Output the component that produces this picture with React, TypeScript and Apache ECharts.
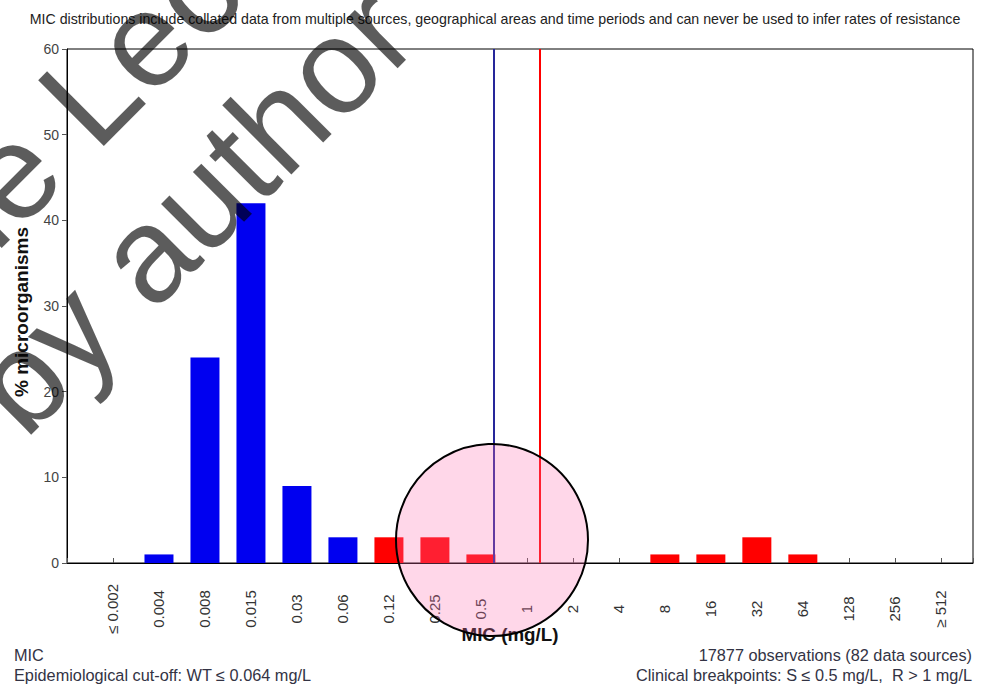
import React, { useEffect, useRef } from "react";
import * as echarts from "echarts";

// MIC classes (mg/L) and the share of isolates in each class
const micLabels = ["≤ 0.002", "0.004", "0.008", "0.015", "0.03", "0.06", "0.12", "0.25", "0.5", "1", "2", "4", "8", "16", "32", "64", "128", "256", "≥ 512"];
const micValues = [0.002, 0.004, 0.008, 0.015, 0.03, 0.06, 0.12, 0.25, 0.5, 1, 2, 4, 8, 16, 32, 64, 128, 256, 512];
const percentOrganisms = [0, 1, 24, 42, 9, 3, 3, 3, 1, 0, 0, 0, 1, 1, 3, 1, 0, 0, 0];

// Cut-offs
const ecoff = 0.064; // epidemiological cut-off, WT ≤ 0.064 mg/L
const breakpointS = 0.5; // S ≤ 0.5 mg/L
const breakpointR = 1; // R > 1 mg/L

// y axis ticks
const yMin = 0;
const yMax = 60;
const yStep = 10;

const titleText =
  "MIC distributions include collated data from multiple sources, geographical areas and time periods and can never be used to infer rates of resistance";
const footLeft = ["MIC", "Epidemiological cut-off: WT ≤ 0.064 mg/L"];
const footRight = ["17877 observations (82 data sources)", "Clinical breakpoints: S ≤ 0.5 mg/L,  R > 1 mg/L"];

const FONT = "'Liberation Sans', Arial, Helvetica, sans-serif";
const BLUE = "#0000f0";
const RED = "#ff0000";

export default function App() {
  const ref = useRef<HTMLDivElement>(null);

  useEffect(() => {
    document.body.style.margin = "0";
    if (!ref.current) return;
    const chart = echarts.init(ref.current, undefined, { renderer: "svg" });

    const barWidth = 29;
    // breakpoint lines sit on the right edge of the bar of their class
    const edge = 0.285;
    const sIdx = micValues.indexOf(breakpointS);
    const rIdx = micValues.indexOf(breakpointR);

    const footStyle = { fontSize: 16.3, fontFamily: FONT, fill: "#333344", verticalAlign: "middle" as const };
    const stampStyle = { fontSize: 135, fontFamily: FONT, fill: "rgba(0,0,0,0.64)", align: "left" as const, verticalAlign: "middle" as const };

    const option: echarts.EChartsOption = {
      animation: false,
      backgroundColor: "#ffffff",
      textStyle: { fontFamily: FONT },
      title: {
        text: titleText,
        left: "center",
        top: 7,
        textStyle: { fontSize: 14.2, fontWeight: "normal", color: "#222", fontFamily: FONT },
      },
      grid: {
        left: 67,
        right: 17,
        top: 49,
        bottom: 129,
        show: true,
        borderColor: "#000",
        borderWidth: 1,
        backgroundColor: "transparent",
      },
      xAxis: {
        type: "value",
        min: -1,
        max: 18.7,
        interval: 1,
        splitLine: { show: false },
        axisLine: { show: true, onZero: false, lineStyle: { color: "#000", width: 1 } },
        axisTick: { show: true, inside: true, length: 5, lineStyle: { color: "#555" } },
        axisLabel: {
          rotate: 90,
          align: "center",
          verticalAlign: "middle",
          margin: 46,
          fontSize: 15,
          color: "#333",
          fontFamily: FONT,
          showMinLabel: true,
          showMaxLabel: true,
          formatter: (v: number) =>
            Number.isInteger(v) && v >= 0 && v < micLabels.length ? micLabels[v] : "",
        },
        name: "MIC (mg/L)",
        nameLocation: "middle",
        nameGap: 62,
        nameMoveOverlap: false,
        nameTextStyle: { fontSize: 18.8, fontWeight: "bold", color: "#111", fontFamily: FONT, padding: [0, 20, 0, 0] },
      } as any,
      yAxis: {
        type: "value",
        min: yMin,
        max: yMax,
        interval: yStep,
        splitLine: { show: false },
        axisLine: { show: true, onZero: false, lineStyle: { color: "#000", width: 1 } },
        axisTick: { show: true, length: 5, lineStyle: { color: "#555" } },
        axisLabel: { fontSize: 14, color: "#444", margin: 8, fontFamily: FONT },
        name: "% microorganisms",
        nameLocation: "middle",
        nameGap: 36,
        nameMoveOverlap: false,
        nameTextStyle: { fontSize: 19, fontWeight: "bold", color: "#111", fontFamily: FONT, padding: [0, 12, 0, 0] },
      } as any,
      series: [
        {
          type: "bar",
          barWidth,
          data: percentOrganisms.map((p, i) => ({
            value: [i, p],
            itemStyle: { color: micValues[i] <= ecoff ? BLUE : RED },
          })),
          markLine: {
            silent: true,
            symbol: "none",
            label: { show: false },
            data: [
              { xAxis: sIdx + edge, lineStyle: { color: "#26269a", width: 2, type: "solid" } },
              { xAxis: rIdx + edge, lineStyle: { color: RED, width: 2, type: "solid" } },
            ],
          },
        },
      ],
      graphic: [
        { type: "text", x: 14, y: 655, style: { ...footStyle, text: footLeft[0], align: "left" } },
        { type: "text", x: 14, y: 675, style: { ...footStyle, text: footLeft[1], align: "left" } },
        { type: "text", x: 972, y: 655, style: { ...footStyle, text: footRight[0], align: "right" } },
        { type: "text", x: 972, y: 675, style: { ...footStyle, text: footRight[1], align: "right" } },
        {
          type: "circle",
          shape: { cx: 492, cy: 540, r: 96 },
          style: { fill: "rgba(255,110,175,0.28)", stroke: "#000", lineWidth: 2 },
          z: 100,
        },
        {
          type: "text",
          x: -287,
          y: 471,
          rotation: Math.PI / 4,
          style: { ...stampStyle, text: "Sample Lecture" },
          z: 110,
        },
        {
          type: "text",
          x: -8,
          y: 408,
          rotation: Math.PI / 4,
          style: { ...stampStyle, text: "by author" },
          z: 110,
        },
      ],
    };

    chart.setOption(option);
    return () => chart.dispose();
  }, []);

  return <div ref={ref} style={{ position: "fixed", left: 0, top: 0, width: 990, height: 692 }} />;
}
